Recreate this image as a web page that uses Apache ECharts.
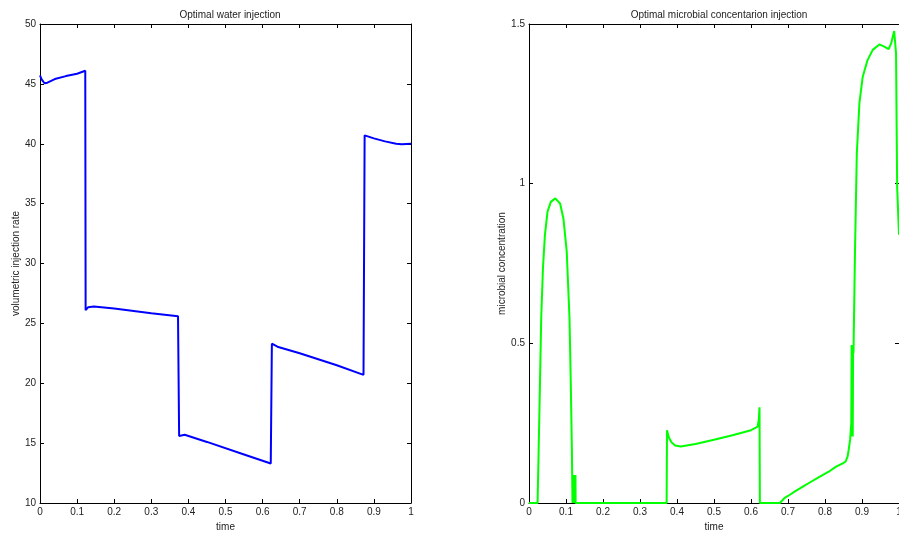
<!DOCTYPE html>
<html>
<head>
<meta charset="utf-8">
<script src="https://cdn.jsdelivr.net/npm/echarts@6/dist/echarts.min.js"></script>
<style>html,body{margin:0;padding:0;background:#fff}#c{width:899px;height:535px}</style>
</head>
<body>
<div id="c"></div>
<script>
// Left panel: optimal water injection
const waterTime = [0, 0.004, 0.012, 0.02, 0.04, 0.07, 0.1, 0.122, 0.123, 0.125, 0.13, 0.145, 0.2, 0.3, 0.372, 0.375, 0.378, 0.39, 0.45, 0.55, 0.622, 0.625, 0.628, 0.64, 0.7, 0.8, 0.872, 0.875, 0.88, 0.9, 0.93, 0.96, 0.975, 1];
const waterRate = [45.7, 45.4, 45.05, 45.1, 45.4, 45.65, 45.85, 46.1, 26.1, 26.1, 26.35, 26.4, 26.25, 25.85, 25.6, 15.6, 15.65, 15.7, 15.1, 14.05, 13.3, 23.3, 23.15, 23.05, 22.5, 21.5, 20.7, 40.7, 40.65, 40.45, 40.2, 40.0, 39.95, 40.0];

// Right panel: optimal microbial concentration injection
const microTime = [0, 0.0232, 0.026, 0.0296, 0.033, 0.0377, 0.043, 0.05, 0.059, 0.071, 0.084, 0.093, 0.102, 0.1095, 0.113, 0.116, 0.1175, 0.12, 0.1205, 0.121, 0.122, 0.123, 0.124, 0.125, 0.1256, 0.126, 0.372, 0.373, 0.378, 0.385, 0.395, 0.41, 0.45, 0.5, 0.55, 0.6, 0.612, 0.618, 0.621, 0.623, 0.624, 0.678, 0.69, 0.704, 0.72, 0.74, 0.76, 0.785, 0.81, 0.83, 0.848, 0.856, 0.861, 0.864, 0.868, 0.871, 0.872, 0.873, 0.874, 0.875, 0.876, 0.877, 0.881, 0.886, 0.893, 0.902, 0.915, 0.929, 0.947, 0.96, 0.972, 0.979, 0.987, 0.992, 0.995, 1.0];
const microConc = [0, 0, 0.16, 0.37, 0.578, 0.735, 0.839, 0.912, 0.943, 0.954, 0.938, 0.891, 0.787, 0.578, 0.37, 0.16, 0, 0, 0.088, 0, 0.088, 0, 0.088, 0, 0.088, 0, 0, 0.228, 0.205, 0.19, 0.18, 0.177, 0.185, 0.198, 0.212, 0.228, 0.235, 0.24, 0.26, 0.30, 0, 0, 0.015, 0.025, 0.037, 0.051, 0.065, 0.082, 0.098, 0.114, 0.124, 0.13, 0.145, 0.166, 0.2, 0.25, 0.495, 0.208, 0.495, 0.208, 0.495, 0.469, 0.782, 1.095, 1.252, 1.335, 1.387, 1.419, 1.436, 1.429, 1.421, 1.44, 1.478, 1.408, 0.99, 0.84];

const xTicks = [0, 0.1, 0.2, 0.3, 0.4, 0.5, 0.6, 0.7, 0.8, 0.9, 1];
const titles = ['Optimal water injection', 'Optimal microbial concentarion injection'];
const yNames = ['volumetric injection rate', 'microbial concentration'];

const FONT = 'Liberation Sans';
const txt = {fontFamily: FONT, fontSize: 10, color: '#222'};
const axLine = {show: true, onZero: false, lineStyle: {color: '#000', width: 1}};
const tick = {show: true, inside: true, length: 4, lineStyle: {color: '#000'}};

function xAx(gi, main) {
  return {
    type: 'value', gridIndex: gi, min: 0, max: 1, interval: 0.1,
    position: main ? 'bottom' : 'top',
    axisLine: axLine, axisTick: tick, splitLine: {show: false},
    axisLabel: main ? Object.assign({show: true, margin: 4, formatter: v => String(+v.toFixed(1))}, txt) : {show: false},
    name: main ? 'time' : '', nameLocation: 'middle', nameGap: 17,
    nameTextStyle: txt
  };
}
function yAx(gi, main, min, max, itv, name, gap) {
  return {
    type: 'value', gridIndex: gi, min: min, max: max, interval: itv,
    position: main ? 'left' : 'right',
    axisLine: axLine, axisTick: tick, splitLine: {show: false},
    axisLabel: main ? Object.assign({show: true, margin: 4}, txt) : {show: false},
    name: main ? name : '', nameLocation: 'middle', nameGap: gap,
    nameTextStyle: txt
  };
}

const chart = echarts.init(document.getElementById('c'), null, {renderer: 'canvas'});
chart.setOption({
  animation: false,
  backgroundColor: '#fff',
  title: [
    {text: titles[0], left: 225, top: 5, textAlign: 'center', textStyle: Object.assign({fontWeight: 'normal'}, txt)},
    {text: titles[1], left: 714, top: 5, textAlign: 'center', textStyle: Object.assign({fontWeight: 'normal'}, txt)}
  ],
  grid: [
    {left: 40, top: 24, width: 371, height: 479, containLabel: false, outerBoundsMode: 'none'},
    {left: 529, top: 24, width: 370, height: 479, containLabel: false, outerBoundsMode: 'none'}
  ],
  xAxis: [xAx(0, true), xAx(0, false), xAx(1, true), xAx(1, false)],
  yAxis: [
    yAx(0, true, 10, 50, 5, yNames[0], 19), yAx(0, false, 10, 50, 5),
    yAx(1, true, 0, 1.5, 0.5, yNames[1], 22), yAx(1, false, 0, 1.5, 0.5)
  ],
  series: [
    {type: 'line', xAxisIndex: 0, yAxisIndex: 0, showSymbol: false, symbol: 'none',
     lineStyle: {color: '#0000ff', width: 2}, data: waterTime.map((t, i) => [t, waterRate[i]])},
    {type: 'line', xAxisIndex: 2, yAxisIndex: 2, showSymbol: false, symbol: 'none',
     lineStyle: {color: '#00ff00', width: 2}, data: microTime.map((t, i) => [t, microConc[i]])}
  ]
});
</script>
</body>
</html>
